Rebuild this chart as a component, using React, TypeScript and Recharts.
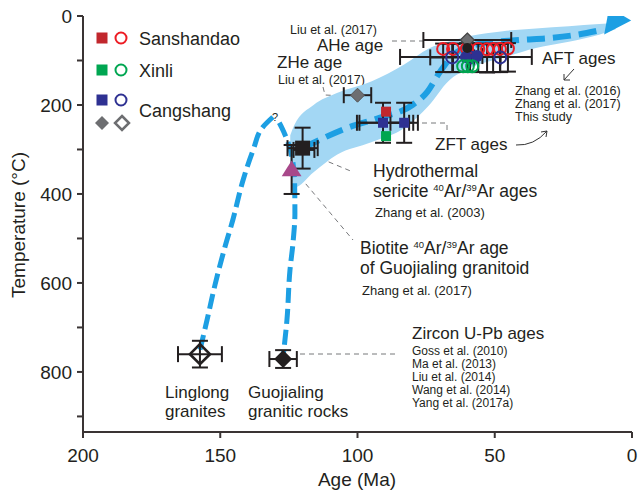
import React from "react";
import {
  ComposedChart,
  Area,
  Line,
  Scatter,
  XAxis,
  YAxis,
  ErrorBar,
  Customized,
} from "recharts";

const FONT = "'Liberation Sans', Arial, Helvetica, sans-serif";
const INK = "#231f20";
const AXIS = "#3a3434";
const BLUE = "#1d9fe3";
const BAND = "#a3d7f4";
const LEAD = "#77787b";
const RED = "#c1272d";
const RED_RING = "#ed1c24";
const GREEN = "#00a651";
const NAVY = "#2e3192";
const GREY = "#6d6e71";
const MAGENTA = "#a8488a";

// light blue envelope of the cooling path: age (Ma), upper / lower temperature (°C)
const bandAges = [124.5, 123, 116, 107.5, 95, 83, 74, 67, 59, 47, 35, 23, 12, 6];
const bandUpper = [268, 245, 200, 173, 147, 109, 73, 58, 45, 34, 28, 23, 18, 16];
const bandLower = [352, 385, 351, 312, 284, 252, 201, 147, 117, 94, 72, 58, 42, 30];

// main dashed cooling path (ends with the arrow)
const pathAges = [120, 114, 104, 92, 80, 74.5, 70, 64, 54, 41, 29, 20, 11];
const pathTemps = [297, 279, 252, 229, 200, 170, 126, 82, 61, 54, 49, 42, 31];
const arrowTip = [{ age: 0.3, T: 10 }];

// Linglong granites path (from the "?" down to the zircon age)
const linglongAges = [130.8, 134.4, 138, 141.7, 145.4, 148.6, 151.9, 154.8, 157.4];
const linglongTemps = [227, 249, 301, 369, 458, 526, 604, 683, 751];

// Guojialing path
const guojialingAges = [128.5, 127.5, 125, 123.5, 122.9, 122.8, 123.5, 124.6, 125.7, 127.2];
const guojialingTemps = [240, 252, 290, 330, 380, 443, 510, 571, 683, 770];

// point data
const sericite = [{ age: 120, T: 297, ex: 5.5, ey: 46 }];
const sericiteExtra = [{ age: 119.5, T: 301, ex: 3.8 }];
const biotite = [{ age: 124, T: 345, ey: 55 }];
const zhe = [{ age: 100, T: 178, ex: 5 }];
const ahe = [{ age: 60, T: 54, ex: 16 }];
const zftRed = [{ age: 89.6, T: 215 }];
const zftBlue = [
  { age: 90.7, T: 240, ex: 9.5, ey: 45 },
  { age: 83, T: 240, ex: 5, ey: 45 },
];
const zftExtra = [{ age: 89.5, T: 240, ex: 9.8 }];
const zftGreen = [{ age: 89.6, T: 270 }];

const aftRedAges = [68.8, 65.2, 60.1, 56, 52.8, 50.6, 48.1, 45.2];
const aftRedTemps = [74, 74, 73, 74, 75, 74, 74, 73];
const aftRed = aftRedAges.map((age, i) => ({ age, T: aftRedTemps[i], ey: [12, 52] }));
const aftBlueOpen = [
  { age: 65.5, T: 93, ex: 8, ey: [30, 33] },
  { age: 59, T: 93, ex: 0.1, ey: [30, 33] },
  { age: 48, T: 93, ex: 0.1, ey: [30, 33] },
];
const aftBlueFilled = [
  { age: 60.5, T: 92, ex: 24 },
  { age: 56.5, T: 90, ex: 2 },
];
const aftBlack = [{ age: 60, T: 72 }];
const aftGreenAges = [61.5, 59.8, 58.2];
const aftGreenTemps = [113, 113, 113];
const aftGreen = aftGreenAges.map((age, i) => ({ age, T: aftGreenTemps[i] }));

const zircon = [{ name: "Linglong", age: 157.4, T: 760, ex: 8, ey: 30 }];
const zirconGuo = [{ name: "Guojialing", age: 127.1, T: 771, ex: 5, ey: 20 }];

const xTicks = [0, 50, 100, 150, 200];
const yTicks = [0, 100, 200, 300, 400, 500, 600, 700, 800, 900];

const bandRows = bandAges.map((age, i) => ({ age, band: [bandUpper[i], bandLower[i]] }));
const pathRows = pathAges.map((age, i) => ({ age, T: pathTemps[i] }));
const linglongRows = linglongAges.map((age, i) => ({ age, T: linglongTemps[i] }));
const guojialingRows = guojialingAges.map((age, i) => ({ age, T: guojialingTemps[i] }));

const square = (size: number, fill: string) => (p: any) => (
  <rect x={p.cx - size / 2} y={p.cy - size / 2} width={size} height={size} fill={fill} />
);
const ring = (r: number, stroke: string) => (p: any) => (
  <circle cx={p.cx} cy={p.cy} r={r} fill="none" stroke={stroke} strokeWidth={2} />
);
const disc = (r: number, fill: string) => (p: any) => (
  <circle cx={p.cx} cy={p.cy} r={r} fill={fill} />
);
const diamond = (h: number, fill: string, stroke = "none", sw = 0) => (p: any) => (
  <polygon
    points={`${p.cx},${p.cy - h} ${p.cx + h},${p.cy} ${p.cx},${p.cy + h} ${p.cx - h},${p.cy}`}
    fill={fill}
    stroke={stroke}
    strokeWidth={sw}
  />
);
const triangle = (h: number, fill: string) => (p: any) => (
  <polygon
    points={`${p.cx},${p.cy - h} ${p.cx + h * 1.1},${p.cy + h * 0.75} ${p.cx - h * 1.1},${p.cy + h * 0.75}`}
    fill={fill}
  />
);
const nothing = () => <g />;
const arrowHead = (p: any) => (
  <polygon
    points={`${p.cx},${p.cy} ${p.cx - 22},${p.cy - 13} ${p.cx - 27},${p.cy + 14}`}
    fill={BLUE}
  />
);

const barProps = { stroke: INK, strokeWidth: 2, width: 8, isAnimationActive: false };

function Notes() {
  const lead = { stroke: LEAD, strokeWidth: 1, strokeDasharray: "5 4", fill: "none" };
  return (
    <g fontFamily={FONT} fill={INK}>
      {/* legend */}
      <rect x={96.5} y={32.5} width={11} height={11} fill={RED} />
      <circle cx={121} cy={38} r={5.5} fill="none" stroke={RED_RING} strokeWidth={2} />
      <text x={139} y={45} fontSize={18}>Sanshandao</text>
      <rect x={96.5} y={64.5} width={11} height={11} fill={GREEN} />
      <circle cx={121} cy={70} r={5.5} fill="none" stroke={GREEN} strokeWidth={2} />
      <text x={139} y={77} fontSize={18}>Xinli</text>
      <rect x={96.5} y={94.5} width={11} height={11} fill={NAVY} />
      <circle cx={121} cy={100} r={5.5} fill="none" stroke={NAVY} strokeWidth={2} />
      <polygon points="102,116 109,123 102,130 95,123" fill={GREY} />
      <polygon points="122,116 129,123 122,130 115,123" fill="none" stroke={GREY} strokeWidth={2.5} />
      <text x={139} y={117} fontSize={18}>Cangshang</text>

      {/* leader lines */}
      <path d="M323 87 L325 95 L346 96" {...lead} />
      <path d="M392 41 L423 41" {...lead} />
      <path d="M422 123 L447 123 L447 133" {...lead} />
      <path d="M312 155 L353 172" {...lead} />
      <path d="M300 177 L353 240" {...lead} />
      <path d="M300 354 L396 354" {...lead} />

      {/* annotation arrows */}
      <line x1={574} y1={69} x2={564} y2={80} stroke="#333" strokeWidth={1} />
      <polyline points="564,74 564,80 570,80" fill="none" stroke="#333" strokeWidth={1} />
      <path d="M516 145 Q534 146 547 131" fill="none" stroke="#333" strokeWidth={1} />
      <polyline points="541,132 547,131 546,137" fill="none" stroke="#333" strokeWidth={1} />

      <text x={290} y={34} fontSize={12.5}>Liu et al. (2017)</text>
      <text x={317} y={51} fontSize={17}>AHe age</text>
      <text x={277} y={68} fontSize={17}>ZHe age</text>
      <text x={278} y={84} fontSize={12.5}>Liu et al. (2017)</text>

      <text x={542} y={64} fontSize={17}>AFT ages</text>
      <text x={515} y={95} fontSize={12.5}>Zhang et al. (2016)</text>
      <text x={515} y={108} fontSize={12.5}>Zhang et al. (2017)</text>
      <text x={515} y={121} fontSize={12.5}>This study</text>
      <text x={435} y={150} fontSize={17}>ZFT ages</text>

      <text x={373} y={177} fontSize={17.5}>Hydrothermal</text>
      <text x={373} y={197} fontSize={17.5}>
        sericite <tspan fontSize={9.5} dy={-6}>40</tspan>
        <tspan dy={6}>Ar/</tspan>
        <tspan fontSize={9.5} dy={-6}>39</tspan>
        <tspan dy={6}>Ar ages</tspan>
      </text>
      <text x={375} y={217} fontSize={13}>Zhang et al. (2003)</text>

      <text x={360} y={254} fontSize={17.5}>
        Biotite <tspan fontSize={9.5} dy={-6}>40</tspan>
        <tspan dy={6}>Ar/</tspan>
        <tspan fontSize={9.5} dy={-6}>39</tspan>
        <tspan dy={6}>Ar age</tspan>
      </text>
      <text x={360} y={274} fontSize={17.5}>of Guojialing granitoid</text>
      <text x={362} y={295} fontSize={13}>Zhang et al. (2017)</text>

      <text x={412} y={339} fontSize={17}>Zircon U-Pb ages</text>
      <text x={412} y={355} fontSize={12}>Goss et al. (2010)</text>
      <text x={412} y={368} fontSize={12}>Ma et al. (2013)</text>
      <text x={412} y={381} fontSize={12}>Liu et al. (2014)</text>
      <text x={412} y={394} fontSize={12}>Wang et al. (2014)</text>
      <text x={412} y={407} fontSize={12}>Yang et al. (2017a)</text>

      <text x={165} y={398} fontSize={17}>Linglong</text>
      <text x={165} y={417} fontSize={17}>granites</text>
      <text x={248} y={398} fontSize={17}>Guojialing</text>
      <text x={248} y={417} fontSize={17}>granitic rocks</text>
      <text x={272} y={121} fontSize={11}>?</text>

      <text x={357} y={486} fontSize={19} textAnchor="middle">Age (Ma)</text>
      <text x={0} y={0} fontSize={19} textAnchor="middle" transform="translate(25 225) rotate(-90)">
        Temperature (°C)
      </text>
    </g>
  );
}

export default function App() {
  const tick = { fontSize: 19, fill: INK, fontFamily: FONT };
  const line = { stroke: AXIS, strokeWidth: 2 };
  return (
    <div style={{ position: "absolute", left: 0, top: 0, background: "#fff" }}>
      <ComposedChart
        width={638}
        height={492}
        data={bandRows}
        margin={{ top: 16, right: 6, bottom: 30, left: 23 }}
      >
        <XAxis
          dataKey="age"
          type="number"
          domain={[0, 200]}
          reversed
          allowDataOverflow
          ticks={xTicks}
          height={30}
          tickSize={6}
          tickMargin={11}
          axisLine={line}
          tickLine={line}
          tick={tick}
        />
        <XAxis
          xAxisId="top"
          orientation="top"
          type="number"
          domain={[0, 200]}
          reversed
          height={0}
          tick={false}
          tickLine={false}
          axisLine={line}
        />
        <YAxis
          type="number"
          domain={[0, 935]}
          reversed
          allowDataOverflow
          ticks={yTicks}
          interval={0}
          tickFormatter={(v: number) => (v % 200 === 0 ? String(v) : "")}
          width={60}
          tickSize={6}
          tickMargin={5}
          axisLine={line}
          tickLine={line}
          tick={tick}
        />
        <YAxis
          yAxisId="right"
          orientation="right"
          type="number"
          domain={[0, 935]}
          reversed
          mirror
          ticks={yTicks}
          interval={0}
          tickFormatter={() => ""}
          width={0}
          tickSize={6}
          axisLine={line}
          tickLine={line}
        />

        <Area
          dataKey="band"
          type="monotone"
          fill={BAND}
          fillOpacity={1}
          stroke="none"
          isAnimationActive={false}
        />
        <Line
          data={linglongRows}
          dataKey="T"
          type="monotoneY"
          stroke={BLUE}
          strokeWidth={5}
          strokeDasharray="15 6"
          dot={false}
          isAnimationActive={false}
        />
        <Line
          data={guojialingRows}
          dataKey="T"
          type="monotoneY"
          stroke={BLUE}
          strokeWidth={5}
          strokeDasharray="15 6"
          dot={false}
          isAnimationActive={false}
        />
        <Line
          data={pathRows}
          dataKey="T"
          type="monotone"
          stroke={BLUE}
          strokeWidth={6}
          strokeDasharray="18 8"
          dot={false}
          isAnimationActive={false}
        />
        <Scatter data={arrowTip} dataKey="T" shape={arrowHead} isAnimationActive={false} />

        <Scatter data={zircon} dataKey="T" shape={diamond(10, "none", INK, 2.7)} isAnimationActive={false}>
          <ErrorBar dataKey="ex" direction="x" {...barProps} />
          <ErrorBar dataKey="ey" direction="y" {...barProps} />
        </Scatter>
        <Scatter data={zirconGuo} dataKey="T" shape={diamond(9, INK)} isAnimationActive={false}>
          <ErrorBar dataKey="ex" direction="x" {...barProps} />
          <ErrorBar dataKey="ey" direction="y" {...barProps} />
        </Scatter>

        <Scatter data={biotite} dataKey="T" shape={triangle(9, MAGENTA)} isAnimationActive={false}>
          <ErrorBar dataKey="ey" direction="y" {...barProps} />
        </Scatter>
        <Scatter data={sericiteExtra} dataKey="T" shape={nothing} isAnimationActive={false}>
          <ErrorBar dataKey="ex" direction="x" {...barProps} />
        </Scatter>
        <Scatter data={sericite} dataKey="T" shape={square(15, INK)} isAnimationActive={false}>
          <ErrorBar dataKey="ex" direction="x" {...barProps} />
          <ErrorBar dataKey="ey" direction="y" {...barProps} />
        </Scatter>

        <Scatter data={zhe} dataKey="T" shape={diamond(7, GREY, "#555", 1)} isAnimationActive={false}>
          <ErrorBar dataKey="ex" direction="x" {...barProps} />
        </Scatter>

        <Scatter data={zftExtra} dataKey="T" shape={nothing} isAnimationActive={false}>
          <ErrorBar dataKey="ex" direction="x" {...barProps} />
        </Scatter>
        <Scatter data={zftBlue} dataKey="T" shape={square(10, NAVY)} isAnimationActive={false}>
          <ErrorBar dataKey="ex" direction="x" {...barProps} />
          <ErrorBar dataKey="ey" direction="y" {...barProps} />
        </Scatter>
        <Scatter data={zftRed} dataKey="T" shape={square(10, RED)} isAnimationActive={false} />
        <Scatter data={zftGreen} dataKey="T" shape={square(10, GREEN)} isAnimationActive={false} />

        <Scatter data={aftRed} dataKey="T" shape={ring(6, RED_RING)} isAnimationActive={false}>
          <ErrorBar dataKey="ey" direction="y" {...barProps} />
        </Scatter>
        <Scatter data={aftBlueOpen} dataKey="T" shape={ring(6, NAVY)} isAnimationActive={false}>
          <ErrorBar dataKey="ex" direction="x" {...barProps} />
          <ErrorBar dataKey="ey" direction="y" {...barProps} />
        </Scatter>
        <Scatter data={aftBlueFilled} dataKey="T" shape={disc(6, NAVY)} isAnimationActive={false}>
          <ErrorBar dataKey="ex" direction="x" {...barProps} />
        </Scatter>
        <Scatter data={aftGreen} dataKey="T" shape={ring(6, GREEN)} isAnimationActive={false} />
        <Scatter data={ahe} dataKey="T" shape={diamond(7, GREY, "#444", 1.2)} isAnimationActive={false}>
          <ErrorBar dataKey="ex" direction="x" {...barProps} />
        </Scatter>
        <Scatter data={aftBlack} dataKey="T" shape={disc(5, INK)} isAnimationActive={false} />

        <Customized component={Notes} />
      </ComposedChart>
    </div>
  );
}
